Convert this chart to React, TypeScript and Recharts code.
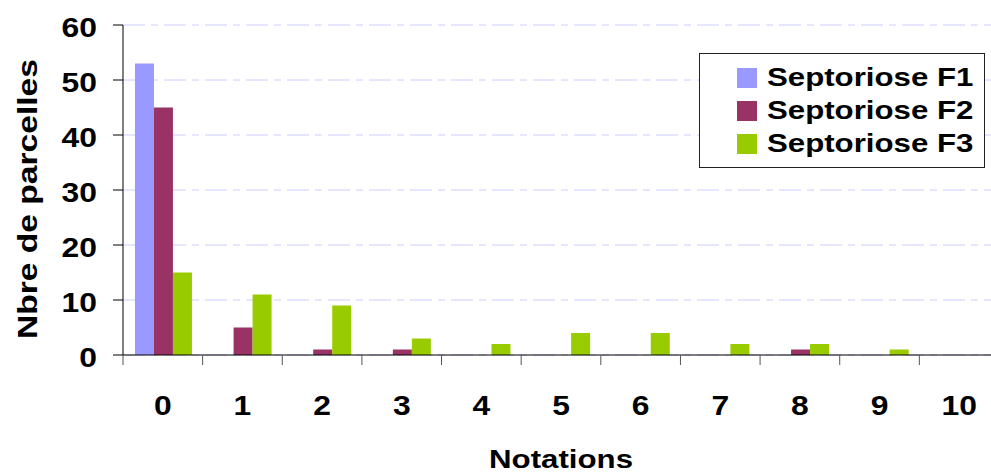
import React from 'react';
import { Bar, BarChart, CartesianGrid, Legend, XAxis, YAxis } from 'recharts';

const notations = ['0', '1', '2', '3', '4', '5', '6', '7', '8', '9', '10'];
const septorioseF1 = [53, 0, 0, 0, 0, 0, 0, 0, 0, 0, 0];
const septorioseF2 = [45, 5, 1, 1, 0, 0, 0, 0, 1, 0, 0];
const septorioseF3 = [15, 11, 9, 3, 2, 4, 4, 2, 2, 1, 0];
const yTicks = [0, 10, 20, 30, 40, 50, 60];

const series = [
  { key: 'f1', name: 'Septoriose F1', color: '#9999FF' },
  { key: 'f2', name: 'Septoriose F2', color: '#993366' },
  { key: 'f3', name: 'Septoriose F3', color: '#99CC00' },
];

const data = notations.map((n, i) => ({
  notation: n,
  f1: septorioseF1[i],
  f2: septorioseF2[i],
  f3: septorioseF3[i],
}));

const FONT = "Arial, 'Liberation Sans', sans-serif";
// the source picture has its text a bit stretched along the reading direction
const STRETCH = 1.18;
const CHART_W = 1010;
const CHART_H = 472;
const LEFT = 123;
const RIGHT_MARGIN = 11;
const BAND = (CHART_W - LEFT - RIGHT_MARGIN) / notations.length;

// category ticks sit between the bars, labels sit under the middle
function XTick(props: any) {
  const { x, y, payload } = props;
  const edge = x - BAND / 2;
  return (
    <g>
      <line x1={edge} y1={y - 8} x2={edge} y2={y + 2} stroke="#555" strokeWidth={1} />
      <text
        transform={`translate(${x},${y + 42}) scale(${STRETCH},1)`}
        textAnchor="middle"
        dominantBaseline="central"
        fontFamily={FONT}
        fontWeight="bold"
        fontSize={27}
        fill="#000"
      >
        {payload.value}
      </text>
    </g>
  );
}

function YTick(props: any) {
  const { x, y, payload } = props;
  return (
    <text
      transform={`translate(${x},${y + 2}) scale(${STRETCH},1)`}
      textAnchor="end"
      dominantBaseline="central"
      fontFamily={FONT}
      fontWeight="bold"
      fontSize={27}
      fill="#000"
    >
      {payload.value}
    </text>
  );
}

function YTitle(props: any) {
  const { viewBox } = props;
  const cy = viewBox.y + viewBox.height / 2 + 9;
  return (
    <text
      transform={`translate(27,${cy}) rotate(-90) scale(1.2,1)`}
      textAnchor="middle"
      dominantBaseline="central"
      fontFamily={FONT}
      fontWeight="bold"
      fontSize={28}
      fill="#000"
    >
      Nbre de parcelles
    </text>
  );
}

function XTitle(props: any) {
  const { viewBox } = props;
  const cx = viewBox.x + viewBox.width / 2;
  return (
    <text
      transform={`translate(${cx},${viewBox.y + viewBox.height - 4}) scale(1.25,1)`}
      textAnchor="middle"
      fontFamily={FONT}
      fontWeight="bold"
      fontSize={25}
      fill="#000"
    >
      Notations
    </text>
  );
}

function LegendBox() {
  return (
    <div
      style={{
        width: 286,
        height: 115,
        border: '1px solid #222',
        background: '#fff',
        fontFamily: FONT,
        fontWeight: 'bold',
        fontSize: 26,
        paddingTop: 7,
        boxSizing: 'border-box',
        textAlign: 'left',
      }}
    >
      {series.map(s => (
        <div key={s.key} style={{ display: 'flex', alignItems: 'center', height: 33, paddingLeft: 37 }}>
          <span style={{ width: 20, height: 20, background: s.color, marginRight: 10, display: 'inline-block', flex: 'none' }} />
          <span style={{ color: '#000', display: 'inline-block', transform: `scaleX(1.2)`, transformOrigin: 'left center', whiteSpace: 'nowrap' }}>
            {s.name}
          </span>
        </div>
      ))}
    </div>
  );
}

export default function App() {
  return (
    <div style={{ position: 'absolute', left: 0, top: 0, width: 991, height: 472, overflow: 'hidden', background: '#fff' }}>
      <BarChart
        width={CHART_W}
        height={CHART_H}
        data={data}
        margin={{ top: 25, right: RIGHT_MARGIN, left: 0, bottom: 0 }}
        barCategoryGap="15%"
        barGap={0}
      >
        <CartesianGrid vertical={false} stroke="#CCCCFF" strokeDasharray="22 6 7 6" />
        <XAxis
          dataKey="notation"
          height={117}
          tickLine={false}
          axisLine={{ stroke: '#000', strokeWidth: 1 }}
          tick={<XTick />}
          tickSize={8}
          tickMargin={0}
          interval={0}
          label={<XTitle />}
        />
        <YAxis
          width={LEFT}
          domain={[0, 60]}
          ticks={yTicks}
          interval={0}
          tickSize={10}
          tickMargin={16}
          axisLine={{ stroke: '#000', strokeWidth: 1 }}
          tickLine={{ stroke: '#000', strokeWidth: 1 }}
          tick={<YTick />}
          label={<YTitle />}
        />
        <Legend
          content={<LegendBox />}
          layout="horizontal"
          verticalAlign="middle"
          align="center"
          wrapperStyle={{ position: 'absolute', top: 53, left: 699, width: 286, height: 115 }}
        />
        {series.map(s => (
          <Bar key={s.key} dataKey={s.key} name={s.name} fill={s.color} isAnimationActive={false} />
        ))}
      </BarChart>
    </div>
  );
}
